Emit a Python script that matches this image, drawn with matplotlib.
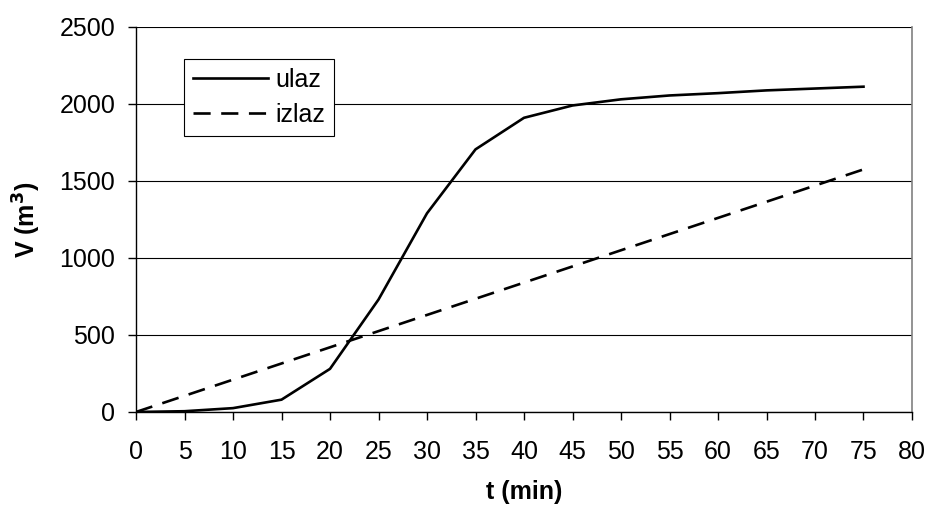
import matplotlib.pyplot as plt

plt.rcParams['font.family'] = ['Liberation Sans', 'DejaVu Sans']

t = [0, 5, 10, 15, 20, 25, 30, 35, 40, 45, 50, 55, 60, 65, 70, 75]
ulaz = [0, 5, 25, 80, 280, 730, 1290, 1705, 1910, 1990, 2030, 2055, 2070, 2088, 2100, 2112]
izlaz = [0, 105, 210, 315, 420, 525, 630, 735, 840, 945, 1050, 1155, 1260, 1365, 1470, 1575]

fig = plt.figure(figsize=(9.29, 5.08), dpi=100)
ax = fig.add_axes([0.1464, 0.189, 0.8353, 0.758])

ax.plot(t, ulaz, color='black', lw=1.9, label='ulaz')
ax.plot(t, izlaz, color='black', lw=1.9, dashes=(6.5, 4), label='izlaz')

ax.set_xlim(0, 80)
ax.set_ylim(0, 2500)
ax.set_xticks(range(0, 81, 5))
ax.set_yticks(range(0, 2501, 500))
ax.yaxis.grid(True, color='black', lw=0.8)
ax.set_axisbelow(True)

ax.spines['top'].set_visible(False)
ax.spines['right'].set_color('#808080')
ax.spines['right'].set_linewidth(1.2)
ax.spines['left'].set_linewidth(1.0)
ax.spines['bottom'].set_linewidth(1.0)
ax.tick_params(direction='out', length=6, width=1, labelsize=18)
ax.tick_params(axis='y', pad=9)
ax.tick_params(axis='x', pad=14)

ax.set_xlabel('t (min)', fontsize=18, fontweight='bold', labelpad=12)
ax.set_ylabel('V (m$^\\mathbf{3}$)', fontsize=18, fontweight='bold', labelpad=12)

leg = ax.legend(loc='upper left', bbox_to_anchor=(0.062, 0.917), fontsize=18,
                frameon=True, fancybox=False, framealpha=1, edgecolor='black',
                handlelength=3.0, handletextpad=0.3, borderpad=0.35, labelspacing=0.45,
                borderaxespad=0)
leg.get_frame().set_linewidth(0.8)

fig.savefig('out.png', dpi=100)
